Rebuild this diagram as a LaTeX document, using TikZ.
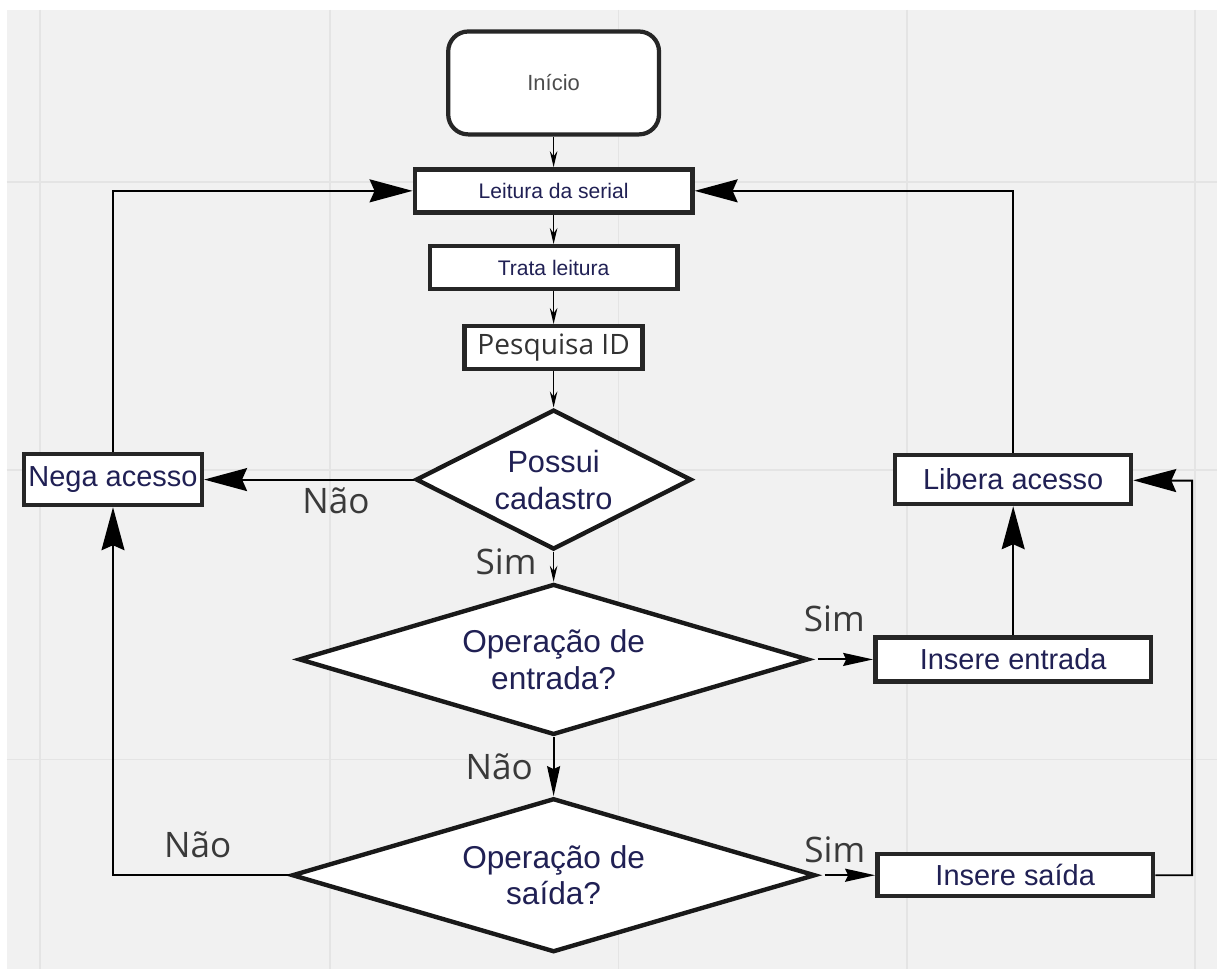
\documentclass[tikz,border=0pt]{standalone}
\usepackage{fontspec}
\setmainfont{Liberation Sans}
\newfontfamily\opensans{Open Sans}
\usepackage{tikz}
\usetikzlibrary{arrows.meta,shapes.geometric}

\definecolor{navy}{RGB}{32,32,84}
\definecolor{bggray}{RGB}{241,241,241}
\definecolor{gridgray}{RGB}{228,228,228}
\definecolor{labelgray}{RGB}{58,58,58}

\begin{document}
\begin{tikzpicture}[x=0.02cm,y=-0.02cm,line width=1.1pt,
    smallarrow/.style={-{Stealth[length=0.32cm,width=0.15cm]},line width=0.9pt},
    midarrow/.style={-{Stealth[length=0.6cm,width=0.26cm,inset=0.06cm]}},
    bigarrow/.style={-{Stealth[length=0.86cm,width=0.46cm,inset=0.1cm]}},
    terminal/.style={draw=black!85,line width=2.4pt,fill=white,rounded corners=0.4cm,
                     minimum width=4.22cm,minimum height=2.06cm,text=black!70,
                     font=\fontsize{12.5}{15}\selectfont},
    proc/.style={draw=black!85,line width=2.5pt,fill=white,inner sep=0pt,
                 text=navy,font=\fontsize{16.5}{20}\selectfont},
    decision/.style={diamond,draw=black!90,line width=2.5pt,fill=white,inner sep=0pt,
                     align=center,text=navy,font=\fontsize{18}{21}\selectfont},
    answer/.style={text=labelgray,font=\opensans\fontsize{20}{24}\selectfont},
    gridline/.style={draw=gridgray,line width=1pt}]

  % fundo e grade
  \fill[white] (0,0) rectangle (1218,970);
  \fill[bggray] (7,10) rectangle (1218,970);
  \foreach \gx in {40,330,619,908,1196} \draw[gridline] (\gx,10) -- (\gx,970);
  \foreach \gy in {182,470,760} \draw[gridline] (7,\gy) -- (1218,\gy);

  \node[terminal] (I) at (554,83) {Início};
  \node[proc,minimum width=5.56cm,minimum height=0.86cm,font=\fontsize{12}{14}\selectfont]
       (L) [below of=I, node distance=2.16cm] {Leitura da serial};
  \node[proc,minimum width=4.96cm,minimum height=0.86cm,font=\fontsize{12}{14}\selectfont]
       (T) [below of=L, node distance=1.54cm] {Trata leitura};
  \node[proc,minimum width=3.56cm,minimum height=0.86cm,text=black!80,
        font=\opensans\fontsize{16}{19}\selectfont]
       (P) [below of=T, node distance=1.6cm] {Pesquisa ID};
  \node[decision,aspect=1.94,minimum width=5.52cm,minimum height=2.8cm,
        font=\fontsize{17.5}{21}\selectfont]
       (C) [below of=P, node distance=2.64cm] {Possui\\cadastro};
  \node[decision,aspect=3.3,minimum width=10.2cm,minimum height=3.02cm]
       (E) [below of=C, node distance=3.6cm] {Operação de\\entrada?};
  \node[decision,aspect=3.3,minimum width=10.48cm,minimum height=3.08cm]
       (S) [below of=E, node distance=4.32cm] {Operação de\\saída?};
  \node[proc,minimum width=3.56cm,minimum height=1.02cm]
       (N) [left of=C, node distance=8.82cm] {Nega acesso};
  \node[proc,minimum width=4.72cm,minimum height=0.98cm]
       (LB) [right of=C, node distance=9.2cm] {Libera acesso};
  \node[proc,minimum width=5.52cm,minimum height=0.88cm]
       (IE) [right of=E, node distance=9.2cm] {Insere entrada};
  \node[proc,minimum width=5.52cm,minimum height=0.84cm]
       (IS) [right of=S, node distance=9.24cm] {Insere saída};
  \coordinate (R) at (1193,481);

  \path (I) edge[smallarrow]     (L)
        (L) edge[smallarrow]     (T)
        (T) edge[smallarrow]     (P)
        (P) edge[smallarrow]     (C)
        (C) edge[smallarrow]     node[answer,left=6pt,pos=0.35] {Sim} (E)
            edge[bigarrow]       node[answer,below=1pt,pos=0.37] {Não} (N)
        (E) edge[midarrow]       node[answer,left=8pt] {Não} (S)
            edge[midarrow,shorten <=4pt] node[answer,above=12pt,pos=0.38] {Sim} (IE)
        (S) edge[midarrow,shorten <=4pt] node[answer,above=3pt,pos=0.3] {Sim} (IS)
        (IE) edge[bigarrow]      (LB)
;
  \draw[bigarrow] (N) |- (L);
  \draw[bigarrow] (LB) |- (L);
  \draw[bigarrow] (S) -| node[answer,above=6pt,pos=0.26] {Não} (N);
  \draw[bigarrow] (IS) -| (R) -- (LB);
\end{tikzpicture}
\end{document}
